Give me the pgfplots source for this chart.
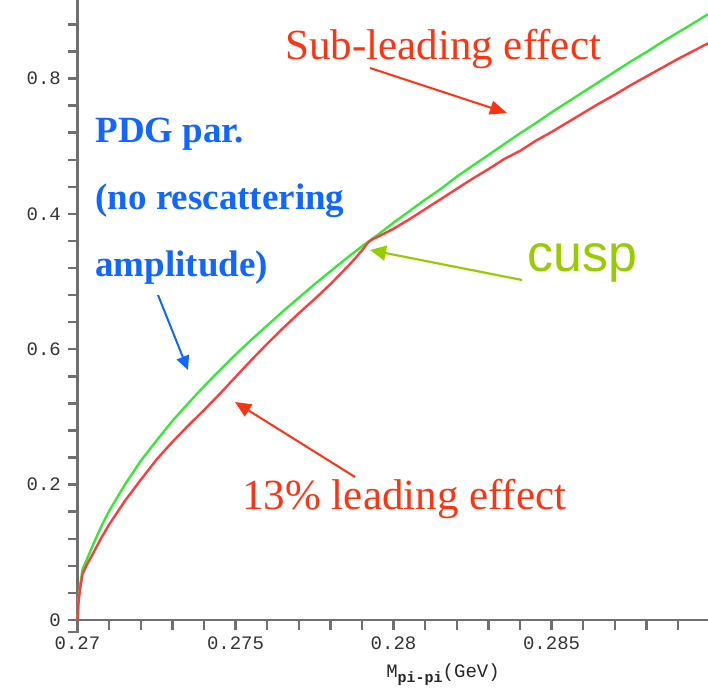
\documentclass[border=0pt]{standalone}
\usepackage{fontspec}
\setmainfont{Liberation Serif}
\setsansfont{Liberation Sans}
\setmonofont{Liberation Mono}
\usepackage{pgfplots}
\usepackage{pgfplotstable}
\pgfplotsset{compat=1.18}
\usetikzlibrary{arrows.meta}
\definecolor{axgray}{HTML}{707070}
\definecolor{curvegreen}{HTML}{3AE63A}
\definecolor{curvered}{HTML}{FF3C3C}
\definecolor{txtred}{HTML}{FF3311}
\definecolor{txtblue}{HTML}{1166FF}
\definecolor{cuspgreen}{HTML}{99CC00}

\pgfplotstableread{
x y
0.27000 0
0.27003 0.030
0.27008 0.050
0.27016 0.075
0.27030 0.090
0.27050 0.112
0.27075 0.138
0.27100 0.161
0.27150 0.200
0.27200 0.235
0.27250 0.265
0.27300 0.294
0.27350 0.320
0.27400 0.345
0.27450 0.369
0.27500 0.392
0.27550 0.414
0.27600 0.435
0.27650 0.456
0.27700 0.476
0.27750 0.496
0.27800 0.515
0.27850 0.534
0.27900 0.552
0.27950 0.569
0.28000 0.587
0.28050 0.604
0.28100 0.621
0.28150 0.637
0.28200 0.655
0.28250 0.671
0.28300 0.687
0.28350 0.703
0.28400 0.719
0.28450 0.734
0.28500 0.750
0.28550 0.765
0.28600 0.780
0.28650 0.795
0.28700 0.810
0.28750 0.825
0.28800 0.839
0.28850 0.854
0.28900 0.868
0.28950 0.882
0.28995 0.895
}\greendata

\pgfplotstableread{
x y
0.27000 0
0.27003 0.025
0.27008 0.045
0.27016 0.068
0.27030 0.082
0.27050 0.099
0.27075 0.121
0.27100 0.141
0.27150 0.176
0.27200 0.207
0.27250 0.237
0.27300 0.263
0.27350 0.287
0.27400 0.310
0.27450 0.334
0.27500 0.359
0.27550 0.384
0.27600 0.408
0.27650 0.431
0.27700 0.453
0.27750 0.474
0.27800 0.496
0.27850 0.520
0.27880 0.535
0.27900 0.546
0.27920 0.558
0.27935 0.563
0.27950 0.566
0.28000 0.578
0.28050 0.592
0.28100 0.607
0.28150 0.622
0.28200 0.637
0.28250 0.652
0.28300 0.666
0.28350 0.681
0.28400 0.693
0.28450 0.708
0.28500 0.721
0.28550 0.735
0.28600 0.749
0.28650 0.763
0.28700 0.776
0.28750 0.790
0.28800 0.803
0.28850 0.816
0.28900 0.829
0.28950 0.841
0.28995 0.852
}\reddata

\begin{document}
\begin{tikzpicture}
\begin{axis}[
  scale only axis,
  width=315.25pt, height=310pt,
  at={(0,0)}, anchor=south west,
  xmin=0.27, xmax=0.28995, ymin=0, ymax=0.916,
  axis lines=left,
  axis line style={-, draw=axgray, line width=1.4pt},
  tick align=outside,
  xtick={0.27,0.275,0.28,0.285},
  xticklabels={0.27,0.275,0.28,0.285},
  minor xtick={0.271,0.272,0.273,0.274,0.276,0.277,0.278,0.279,0.281,0.282,0.283,0.284,0.286,0.287,0.288,0.289},
  ytick={0,0.2,0.4,0.6,0.8},
  yticklabels={0,0.2,0.6,0.4,0.8},
  minor ytick={0.04,0.08,0.12,0.16,0.24,0.28,0.32,0.36,0.44,0.48,0.52,0.56,0.64,0.68,0.72,0.76,0.84,0.88},
  major tick length=4.8pt, minor tick length=4.8pt,
  every tick/.style={draw=axgray, line width=1.2pt},
  tick label style={font=\fontsize{9.5}{10}\selectfont\ttfamily, text=black!80},
  clip=false,
]
\addplot[curvegreen, line width=1.2pt, no marks] table[x=x,y=y] {\greendata};
\addplot[curvered, line width=1.2pt, no marks] table[x=x,y=y] {\reddata};
\end{axis}
\begin{scope}[x=0.5pt, y=-0.5pt, shift={(-38.75pt,310pt)}]
  \draw[axgray, line width=1.4pt] (77.5,620) -- (77.5,632) -- (68,632);
  % texts
  \node[anchor=base west, inner sep=0, text=txtred, font=\fontsize{21.5}{24}\selectfont] at (285,60) {Sub-leading effect};
  \node[anchor=base west, inner sep=0, text=txtred, font=\fontsize{21.5}{24}\selectfont] at (242,510) {13\% leading effect};
  \node[anchor=base west, inner sep=0, text=txtblue, font=\fontsize{18.5}{20}\selectfont\bfseries] at (95,143) {PDG par.};
  \node[anchor=base west, inner sep=0, text=txtblue, font=\fontsize{18.5}{20}\selectfont\bfseries] at (95,210) {(no rescattering};
  \node[anchor=base west, inner sep=0, text=txtblue, font=\fontsize{18.5}{20}\selectfont\bfseries] at (95,277) {amplitude)};
  \node[anchor=base west, inner sep=0, text=cuspgreen, font=\fontsize{26}{28}\selectfont\sffamily] at (527,272) {cusp};
  \node[anchor=base, inner sep=0, text=black!85, font=\fontsize{9.5}{10}\selectfont\ttfamily] at (443,678) {M\raisebox{-0.45ex}{\fontsize{7.5}{8}\selectfont\bfseries pi-pi}(GeV)};
  % arrows
  \draw[txtred, line width=1pt, -{Triangle[length=8.5pt,width=7pt]}] (370,68) -- (507,113);
  \draw[txtblue, line width=1pt, -{Triangle[length=7pt,width=6.5pt]}] (158,295) -- (188,370);
  \draw[cuspgreen, line width=1.1pt, -{Triangle[length=8pt,width=7.5pt]}] (522,280) -- (370,250);
  \draw[txtred, line width=1pt, -{Triangle[length=8pt,width=7pt]}] (355,477) -- (235,402);
  \pgfresetboundingbox
  \useasboundingbox (0,0) rectangle (708,689);
\end{scope}
\end{tikzpicture}
\end{document}
